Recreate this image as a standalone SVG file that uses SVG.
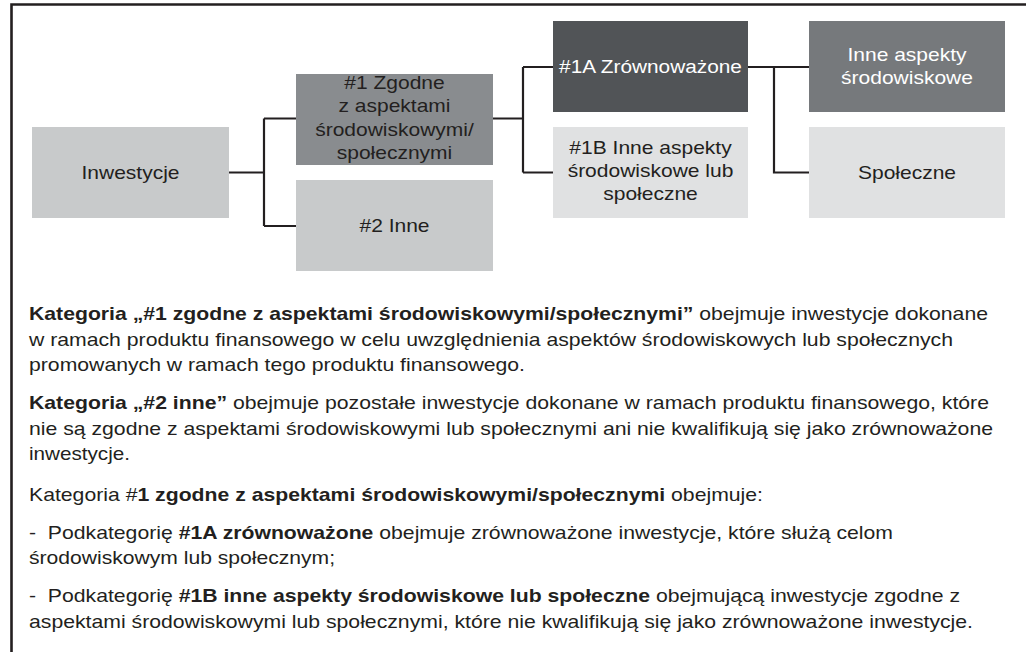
<svg xmlns="http://www.w3.org/2000/svg" width="1026" height="652" viewBox="0 0 1026 652">
<style>
.t{font-family:"Liberation Sans",Arial,Helvetica,sans-serif;font-size:18.6px;fill:#231f20}
.c{text-anchor:middle}
.w{fill:#ffffff}
.b{font-weight:bold}
.ln{fill:none;stroke:#231f20;stroke-width:2.2}
</style>
<rect width="1026" height="652" fill="#ffffff"/>
<path d="M11.5,652 V4.5 H1026" fill="none" stroke="#231f20" stroke-width="2.6"/>
<g id="connectors">
<path class="ln" d="M229,172.5 H264 M264,118.5 V226 M264,118.5 H296 M264,226 H296"/>
<path class="ln" d="M493,118.5 H523 M523,67 V172.5 M523,67 H553 M523,172.5 H553"/>
<path class="ln" d="M748,67 H809 M774,67 V172.5 H809"/>
</g>
<g id="inwestycje">
<rect x="32" y="127" width="197" height="91" fill="#c8cacb"/>
<text class="t c" transform="translate(130.5 0) scale(1.13 1)" x="0" y="179">Inwestycje</text>
</g>
<g id="n1">
<rect x="296" y="74" width="197" height="91" fill="#898c8f"/>
<text class="t c" transform="translate(394.5 0) scale(1.13 1)"><tspan x="0" y="89">#1 Zgodne</tspan><tspan x="0" y="112.5">z aspektami</tspan><tspan x="0" y="136">środowiskowymi/</tspan><tspan x="0" y="159">społecznymi</tspan></text>
</g>
<g id="n2">
<rect x="296" y="180" width="197" height="91" fill="#c8cacb"/>
<text class="t c" transform="translate(394.5 0) scale(1.13 1)" x="0" y="232">#2 Inne</text>
</g>
<g id="n1a">
<rect x="553" y="21" width="195" height="91" fill="#515457"/>
<text class="t c w" transform="translate(650.5 0) scale(1.12 1)" x="0" y="73">#1A Zrównoważone</text>
</g>
<g id="n1b">
<rect x="553" y="127" width="195" height="91" fill="#e0e1e2"/>
<text class="t c" transform="translate(650.5 0) scale(1.13 1)"><tspan x="0" y="154">#1B Inne aspekty</tspan><tspan x="0" y="177">środowiskowe lub</tspan><tspan x="0" y="200">społeczne</tspan></text>
</g>
<g id="inne-aspekty">
<rect x="809" y="21" width="196" height="91" fill="#76797c"/>
<text class="t c w" transform="translate(907 0) scale(1.13 1)"><tspan x="0" y="61">Inne aspekty</tspan><tspan x="0" y="84">środowiskowe</tspan></text>
</g>
<g id="spoleczne">
<rect x="809" y="127" width="196" height="91" fill="#e0e1e2"/>
<text class="t c" transform="translate(907 0) scale(1.13 1)" x="0" y="179">Społeczne</text>
</g>
<g id="description">
<text class="t" x="29" y="320" textLength="959" lengthAdjust="spacingAndGlyphs"><tspan class="b">Kategoria „#1 zgodne z aspektami środowiskowymi/społecznymi”</tspan> obejmuje inwestycje dokonane</text>
<text class="t" x="29" y="345.5" textLength="924" lengthAdjust="spacingAndGlyphs">w ramach produktu finansowego w celu uwzględnienia aspektów środowiskowych lub społecznych</text>
<text class="t" x="29" y="371" textLength="496" lengthAdjust="spacingAndGlyphs">promowanych w ramach tego produktu finansowego.</text>
<text class="t" x="29" y="409" textLength="960" lengthAdjust="spacingAndGlyphs"><tspan class="b">Kategoria „#2 inne”</tspan> obejmuje pozostałe inwestycje dokonane w ramach produktu finansowego, które</text>
<text class="t" x="29" y="434.5" textLength="964" lengthAdjust="spacingAndGlyphs">nie są zgodne z aspektami środowiskowymi lub społecznymi ani nie kwalifikują się jako zrównoważone</text>
<text class="t" x="29" y="460" textLength="101" lengthAdjust="spacingAndGlyphs">inwestycje.</text>
<text class="t" x="29" y="501" textLength="734" lengthAdjust="spacingAndGlyphs">Kategoria #<tspan class="b">1 zgodne z aspektami środowiskowymi/społecznymi</tspan> obejmuje:</text>
<text class="t" x="29" y="538.5" textLength="864" lengthAdjust="spacingAndGlyphs">-&#160; Podkategorię <tspan class="b">#1A zrównoważone</tspan> obejmuje zrównoważone inwestycje, które służą celom</text>
<text class="t" x="29" y="564" textLength="306" lengthAdjust="spacingAndGlyphs">środowiskowym lub społecznym;</text>
<text class="t" x="29" y="602" textLength="931" lengthAdjust="spacingAndGlyphs">-&#160; Podkategorię <tspan class="b">#1B inne aspekty środowiskowe lub społeczne</tspan> obejmującą inwestycje zgodne z</text>
<text class="t" x="29" y="628" textLength="944" lengthAdjust="spacingAndGlyphs">aspektami środowiskowymi lub społecznymi, które nie kwalifikują się jako zrównoważone inwestycje.</text>
</g>
</svg>
